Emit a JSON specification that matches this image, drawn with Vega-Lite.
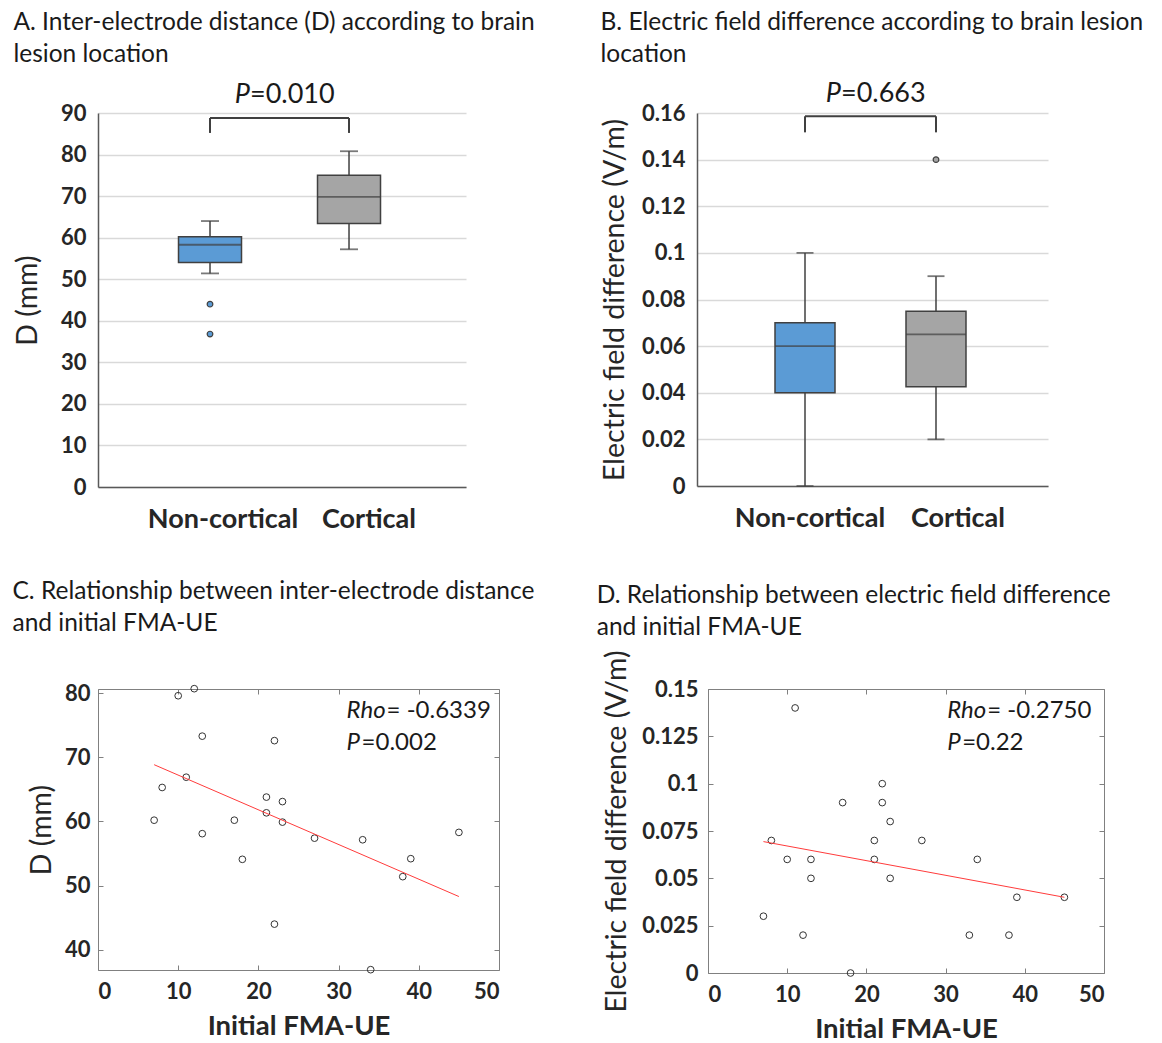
{
  "$schema": "https://vega.github.io/schema/vega-lite/v6.json",
  "padding": {"left": 12, "top": 9, "right": 5, "bottom": 0},
  "background": "white",
  "config": {
    "font": "Lato",
    "view": {"stroke": null},
    "axis": {"labelFont": "Lato", "titleFont": "Lato", "labelColor": "#262626", "titleColor": "#262626"},
    "title": {"font": "Lato", "fontSize": 24.5, "fontWeight": "normal", "color": "#1a1a1a", "anchor": "start", "frame": "bounds", "lineHeight": 32}
  },
  "datasets": {
    "boxA": [
      {"group": "Non-cortical", "lo": 51.4, "q1": 54.0, "med": 58.3, "q3": 60.2, "hi": 64.0},
      {"group": "Cortical", "lo": 57.2, "q1": 63.4, "med": 69.8, "q3": 75.0, "hi": 80.8}
    ],
    "outA": [
      {"group": "Non-cortical", "v": 44.0},
      {"group": "Non-cortical", "v": 36.8}
    ],
    "boxB": [
      {"group": "Non-cortical", "lo": 0.0, "q1": 0.04, "med": 0.06, "q3": 0.07, "hi": 0.10},
      {"group": "Cortical", "lo": 0.02, "q1": 0.0426, "med": 0.065, "q3": 0.075, "hi": 0.09}
    ],
    "outB": [
      {"group": "Cortical", "v": 0.14}
    ],
    "scatter": [
      {"fma": 7, "d": 60.2, "ef": 0.03},
      {"fma": 8, "d": 65.3, "ef": 0.07},
      {"fma": 10, "d": 79.6, "ef": 0.06},
      {"fma": 11, "d": 66.9, "ef": 0.14},
      {"fma": 12, "d": 80.7, "ef": 0.02},
      {"fma": 13, "d": 73.3, "ef": 0.06},
      {"fma": 13, "d": 58.1, "ef": 0.05},
      {"fma": 17, "d": 60.2, "ef": 0.09},
      {"fma": 18, "d": 54.1, "ef": 0.0},
      {"fma": 21, "d": 63.8, "ef": 0.07},
      {"fma": 21, "d": 61.35, "ef": 0.06},
      {"fma": 22, "d": 72.6, "ef": 0.10},
      {"fma": 22, "d": 44.0, "ef": 0.09},
      {"fma": 23, "d": 63.1, "ef": 0.08},
      {"fma": 23, "d": 59.9, "ef": 0.05},
      {"fma": 27, "d": 57.4, "ef": 0.07},
      {"fma": 33, "d": 57.15, "ef": 0.02},
      {"fma": 34, "d": 36.9, "ef": 0.06},
      {"fma": 38, "d": 51.4, "ef": 0.02},
      {"fma": 39, "d": 54.2, "ef": 0.04},
      {"fma": 45, "d": 58.3, "ef": 0.04}
    ],
    "fitC": [
      {"fma": 7, "d": 68.85},
      {"fma": 45, "d": 48.3}
    ],
    "fitD": [
      {"fma": 7, "ef": 0.0694},
      {"fma": 45, "ef": 0.0400}
    ]
  },
  "vconcat": [
    {
      "spacing": 65,
      "hconcat": [
        {
          "width": 368,
          "height": 374,
          "title": {"text": ["A. Inter-electrode distance (D) according to brain", "lesion location"], "offset": 13, "dx": 0},
          "encoding": {
            "x": {"field": "group", "type": "nominal", "sort": ["Non-cortical", "Cortical"],
              "scale": {"type": "band", "domain": ["Non-cortical", "Cortical"], "paddingInner": 0.5468, "paddingOuter": 0.5971, "align": 0.485},
              "axis": {"title": null, "labelAngle": 0, "labelFontSize": 27, "labelFontWeight": "bold", "ticks": false, "domainColor": "#595959", "domainWidth": 1.5, "labelPadding": 19, "labelOffset": {"condition": {"test": "datum.value === 'Cortical'", "value": 20}, "value": 13}, "grid": false}}
          },
          "layer": [
            {
              "data": {"name": "boxA"},
              "mark": {"type": "rule", "stroke": "#404040", "strokeWidth": 1.5},
              "encoding": {
                "y": {"field": "lo", "type": "quantitative", "scale": {"domain": [0, 90], "nice": false},
                  "axis": {"title": "D (mm)", "titleFontSize": 28.5, "titleFontWeight": "normal", "titlePadding": 18, "values": [0, 10, 20, 30, 40, 50, 60, 70, 80, 90], "labelFontSize": 22, "labelFontWeight": "bold", "labelPadding": 12, "ticks": false, "grid": true, "gridColor": "#d9d9d9", "gridWidth": 1.5, "domainColor": "#595959", "domainWidth": 1.5}},
                "y2": {"field": "hi"}
              }
            },
            {
              "data": {"name": "boxA"},
              "mark": {"type": "bar", "stroke": "#404040", "strokeWidth": 1.5},
              "encoding": {
                "y": {"field": "q1", "type": "quantitative"},
                "y2": {"field": "q3"},
                "color": {"field": "group", "type": "nominal", "scale": {"domain": ["Non-cortical", "Cortical"], "range": ["#5b9bd5", "#a5a5a5"]}, "legend": null}
              }
            },
            {
              "data": {"name": "boxA"},
              "mark": {"type": "tick", "orient": "horizontal", "color": "#404040", "size": 63, "thickness": 1.8},
              "encoding": {"y": {"field": "med", "type": "quantitative"}}
            },
            {
              "data": {"name": "boxA"},
              "mark": {"type": "tick", "orient": "horizontal", "color": "#404040", "size": 18, "thickness": 1.8},
              "encoding": {"y": {"field": "hi", "type": "quantitative"}}
            },
            {
              "data": {"name": "boxA"},
              "mark": {"type": "tick", "orient": "horizontal", "color": "#404040", "size": 18, "thickness": 1.8},
              "encoding": {"y": {"field": "lo", "type": "quantitative"}}
            },
            {
              "data": {"name": "outA"},
              "mark": {"type": "point", "filled": true, "size": 32, "stroke": "#404040", "strokeWidth": 1.2, "opacity": 1, "fill": "#5b9bd5"},
              "encoding": {"y": {"field": "v", "type": "quantitative"}}
            },
            {
              "data": {"values": [{"group": "Non-cortical", "a": 85.2, "b": 88.8}, {"group": "Cortical", "a": 85.2, "b": 88.8}]},
              "mark": {"type": "rule", "stroke": "#404040", "strokeWidth": 2},
              "encoding": {"y": {"field": "a", "type": "quantitative"}, "y2": {"field": "b"}}
            },
            {
              "data": {"values": [{"g1": "Non-cortical", "g2": "Cortical", "b": 88.8}]},
              "mark": {"type": "rule", "stroke": "#404040", "strokeWidth": 2},
              "encoding": {"x": {"field": "g1", "type": "nominal"}, "x2": {"field": "g2"}, "y": {"field": "b", "type": "quantitative"}}
            },
            {
              "data": {"values": [{"group": "Non-cortical", "y": 94.4, "t": "P"}]},
              "mark": {"type": "text", "fontSize": 27, "fontStyle": "italic", "align": "right", "baseline": "middle", "dx": 40, "color": "#1a1a1a"},
              "encoding": {"y": {"field": "y", "type": "quantitative"}, "text": {"field": "t"}}
            },
            {
              "data": {"values": [{"group": "Non-cortical", "y": 94.4, "t": "=0.010"}]},
              "mark": {"type": "text", "fontSize": 27, "align": "left", "baseline": "middle", "dx": 40, "color": "#1a1a1a"},
              "encoding": {"y": {"field": "y", "type": "quantitative"}, "text": {"field": "t"}}
            }
          ]
        },
        {
          "width": 351,
          "height": 373,
          "title": {"text": ["B. Electric field difference according to brain lesion", "location"], "offset": 13, "dx": 0},
          "encoding": {
            "x": {"field": "group", "type": "nominal", "sort": ["Non-cortical", "Cortical"],
              "scale": {"type": "band", "domain": ["Non-cortical", "Cortical"], "paddingInner": 0.542, "paddingOuter": 0.6107, "align": 0.4875},
              "axis": {"title": null, "labelAngle": 0, "labelFontSize": 27, "labelFontWeight": "bold", "ticks": false, "domainColor": "#595959", "domainWidth": 1.5, "labelPadding": 19, "labelOffset": {"condition": {"test": "datum.value === 'Cortical'", "value": 22}, "value": 5}, "grid": false}}
          },
          "layer": [
            {
              "data": {"name": "boxB"},
              "mark": {"type": "rule", "stroke": "#404040", "strokeWidth": 1.5},
              "encoding": {
                "y": {"field": "lo", "type": "quantitative", "scale": {"domain": [0, 0.16], "nice": false},
                  "axis": {"title": "Electric field difference (V/m)", "titleFontSize": 28.5, "titleFontWeight": "normal", "titlePadding": 12, "values": [0, 0.02, 0.04, 0.06, 0.08, 0.1, 0.12, 0.14, 0.16], "labelExpr": "datum.value == 0 ? '0' : format(datum.value, '.2~f')", "labelFontSize": 22, "labelFontWeight": "bold", "labelPadding": 12, "ticks": false, "grid": true, "gridColor": "#d9d9d9", "gridWidth": 1.5, "domainColor": "#595959", "domainWidth": 1.5}},
                "y2": {"field": "hi"}
              }
            },
            {
              "data": {"name": "boxB"},
              "mark": {"type": "bar", "stroke": "#404040", "strokeWidth": 1.5},
              "encoding": {
                "y": {"field": "q1", "type": "quantitative"},
                "y2": {"field": "q3"},
                "color": {"field": "group", "type": "nominal", "scale": {"domain": ["Non-cortical", "Cortical"], "range": ["#5b9bd5", "#a5a5a5"]}, "legend": null}
              }
            },
            {
              "data": {"name": "boxB"},
              "mark": {"type": "tick", "orient": "horizontal", "color": "#404040", "size": 60, "thickness": 1.8},
              "encoding": {"y": {"field": "med", "type": "quantitative"}}
            },
            {
              "data": {"name": "boxB"},
              "mark": {"type": "tick", "orient": "horizontal", "color": "#404040", "size": 17, "thickness": 1.8},
              "encoding": {"y": {"field": "hi", "type": "quantitative"}}
            },
            {
              "data": {"name": "boxB"},
              "mark": {"type": "tick", "orient": "horizontal", "color": "#404040", "size": 17, "thickness": 1.8},
              "encoding": {"y": {"field": "lo", "type": "quantitative"}}
            },
            {
              "data": {"name": "outB"},
              "mark": {"type": "point", "filled": true, "size": 32, "stroke": "#404040", "strokeWidth": 1.2, "opacity": 1, "fill": "#a5a5a5"},
              "encoding": {"y": {"field": "v", "type": "quantitative"}}
            },
            {
              "data": {"values": [{"group": "Non-cortical", "a": 0.1517, "b": 0.1586}, {"group": "Cortical", "a": 0.1517, "b": 0.1586}]},
              "mark": {"type": "rule", "stroke": "#404040", "strokeWidth": 2},
              "encoding": {"y": {"field": "a", "type": "quantitative"}, "y2": {"field": "b"}}
            },
            {
              "data": {"values": [{"g1": "Non-cortical", "g2": "Cortical", "b": 0.1586}]},
              "mark": {"type": "rule", "stroke": "#404040", "strokeWidth": 2},
              "encoding": {"x": {"field": "g1", "type": "nominal"}, "x2": {"field": "g2"}, "y": {"field": "b", "type": "quantitative"}}
            },
            {
              "data": {"values": [{"group": "Non-cortical", "y": 0.168, "t": "P"}]},
              "mark": {"type": "text", "fontSize": 27, "fontStyle": "italic", "align": "right", "baseline": "middle", "dx": 36, "color": "#1a1a1a"},
              "encoding": {"y": {"field": "y", "type": "quantitative"}, "text": {"field": "t"}}
            },
            {
              "data": {"values": [{"group": "Non-cortical", "y": 0.168, "t": "=0.663"}]},
              "mark": {"type": "text", "fontSize": 27, "align": "left", "baseline": "middle", "dx": 36, "color": "#1a1a1a"},
              "encoding": {"y": {"field": "y", "type": "quantitative"}, "text": {"field": "t"}}
            }
          ]
        }
      ]
    },
    {
      "spacing": 61,
      "hconcat": [
        {
          "width": 401,
          "height": 281,
          "title": {"text": ["C. Relationship between inter-electrode distance", "and initial FMA-UE"], "offset": 46, "dx": -15},
          "resolve": {"axis": {"x": "independent", "y": "independent"}},
          "layer": [
            {
              "data": {"name": "scatter"},
              "mark": {"type": "point", "shape": "circle", "filled": false, "size": 45, "stroke": "#333333", "strokeWidth": 1, "opacity": 1},
              "encoding": {
                "x": {"field": "fma", "type": "quantitative", "scale": {"domain": [0, 50], "nice": false},
                  "axis": {"orient": "bottom", "title": "Initial FMA-UE", "titleFontSize": 27.5, "titleFontWeight": "bold", "titlePadding": 10, "values": [0, 10, 20, 30, 40, 50], "labelFontSize": 22, "labelFontWeight": "bold", "labelPadding": 16, "tickSize": -5, "tickColor": "#808080", "domainColor": "#808080", "grid": false}},
                "y": {"field": "d", "type": "quantitative", "scale": {"domain": [36.85, 80.65], "nice": false, "zero": false},
                  "axis": {"orient": "left", "title": "D (mm)", "titleFontSize": 28.5, "titleFontWeight": "normal", "titlePadding": 8, "values": [40, 50, 60, 70, 80], "labelFontSize": 22, "labelFontWeight": "bold", "labelPadding": 13, "tickSize": -5, "tickColor": "#808080", "domainColor": "#808080", "grid": false}}
              }
            },
            {
              "data": {"name": "fitC"},
              "mark": {"type": "line", "color": "#ff3b3b", "strokeWidth": 1},
              "encoding": {
                "x": {"field": "fma", "type": "quantitative", "axis": {"orient": "top", "labels": false, "title": null, "values": [0, 10, 20, 30, 40, 50], "tickSize": -5, "tickColor": "#808080", "domainColor": "#808080", "grid": false}},
                "y": {"field": "d", "type": "quantitative", "axis": {"orient": "right", "labels": false, "title": null, "values": [40, 50, 60, 70, 80], "tickSize": -5, "tickColor": "#808080", "domainColor": "#808080", "grid": false}}
              }
            },
            {
              "data": {"values": [{"fma": 31.0, "d": 77.2, "t": "Rho"}, {"fma": 31.0, "d": 72.2, "t": "P"}]},
              "mark": {"type": "text", "fontSize": 24, "fontStyle": "italic", "align": "left", "baseline": "middle", "color": "#1a1a1a"},
              "encoding": {"x": {"field": "fma", "type": "quantitative", "axis": null}, "y": {"field": "d", "type": "quantitative", "axis": null}, "text": {"field": "t"}}
            },
            {
              "data": {"values": [{"fma": 31.0, "d": 77.2, "t": "= -0.6339"}]},
              "mark": {"type": "text", "fontSize": 24, "align": "left", "baseline": "middle", "dx": 40, "color": "#1a1a1a"},
              "encoding": {"x": {"field": "fma", "type": "quantitative", "axis": null}, "y": {"field": "d", "type": "quantitative", "axis": null}, "text": {"field": "t"}}
            },
            {
              "data": {"values": [{"fma": 31.0, "d": 72.2, "t": "=0.002"}]},
              "mark": {"type": "text", "fontSize": 24, "align": "left", "baseline": "middle", "dx": 15, "color": "#1a1a1a"},
              "encoding": {"x": {"field": "fma", "type": "quantitative", "axis": null}, "y": {"field": "d", "type": "quantitative", "axis": null}, "text": {"field": "t"}}
            }
          ]
        },
        {
          "width": 396,
          "height": 284,
          "title": {"text": ["D. Relationship between electric field difference", "and initial FMA-UE"], "offset": 9, "dx": -6},
          "resolve": {"axis": {"x": "independent", "y": "independent"}},
          "layer": [
            {
              "data": {"name": "scatter"},
              "mark": {"type": "point", "shape": "circle", "filled": false, "size": 45, "stroke": "#333333", "strokeWidth": 1, "opacity": 1},
              "encoding": {
                "x": {"field": "fma", "type": "quantitative", "scale": {"domain": [0, 50], "nice": false},
                  "axis": {"orient": "bottom", "title": "Initial FMA-UE", "titleFontSize": 27.5, "titleFontWeight": "bold", "titlePadding": 10, "values": [0, 10, 20, 30, 40, 50], "labelFontSize": 22, "labelFontWeight": "bold", "labelPadding": 16, "tickSize": -5, "tickColor": "#808080", "domainColor": "#808080", "grid": false}},
                "y": {"field": "ef", "type": "quantitative", "scale": {"domain": [0, 0.15], "nice": false},
                  "axis": {"orient": "left", "title": "Electric field difference (V/m)", "titleFontSize": 28.5, "titleFontWeight": "normal", "titlePadding": 10, "values": [0, 0.025, 0.05, 0.075, 0.1, 0.125, 0.15], "labelExpr": "datum.value == 0 ? '0' : format(datum.value, '.3~f')", "labelFontSize": 22, "labelFontWeight": "bold", "labelPadding": 15, "tickSize": -5, "tickColor": "#808080", "domainColor": "#808080", "grid": false}}
              }
            },
            {
              "data": {"name": "fitD"},
              "mark": {"type": "line", "color": "#ff3b3b", "strokeWidth": 1},
              "encoding": {
                "x": {"field": "fma", "type": "quantitative", "axis": {"orient": "top", "labels": false, "title": null, "values": [0, 10, 20, 30, 40, 50], "tickSize": -5, "tickColor": "#808080", "domainColor": "#808080", "grid": false}},
                "y": {"field": "ef", "type": "quantitative", "axis": {"orient": "right", "labels": false, "title": null, "values": [0, 0.025, 0.05, 0.075, 0.1, 0.125, 0.15], "tickSize": -5, "tickColor": "#808080", "domainColor": "#808080", "grid": false}}
              }
            },
            {
              "data": {"values": [{"fma": 30.2, "ef": 0.1382, "t": "Rho"}, {"fma": 30.2, "ef": 0.1213, "t": "P"}]},
              "mark": {"type": "text", "fontSize": 24, "fontStyle": "italic", "align": "left", "baseline": "middle", "color": "#1a1a1a"},
              "encoding": {"x": {"field": "fma", "type": "quantitative", "axis": null}, "y": {"field": "ef", "type": "quantitative", "axis": null}, "text": {"field": "t"}}
            },
            {
              "data": {"values": [{"fma": 30.2, "ef": 0.1382, "t": "= -0.2750"}]},
              "mark": {"type": "text", "fontSize": 24, "align": "left", "baseline": "middle", "dx": 40, "color": "#1a1a1a"},
              "encoding": {"x": {"field": "fma", "type": "quantitative", "axis": null}, "y": {"field": "ef", "type": "quantitative", "axis": null}, "text": {"field": "t"}}
            },
            {
              "data": {"values": [{"fma": 30.2, "ef": 0.1213, "t": "=0.22"}]},
              "mark": {"type": "text", "fontSize": 24, "align": "left", "baseline": "middle", "dx": 15, "color": "#1a1a1a"},
              "encoding": {"x": {"field": "fma", "type": "quantitative", "axis": null}, "y": {"field": "ef", "type": "quantitative", "axis": null}, "text": {"field": "t"}}
            }
          ]
        }
      ]
    }
  ],
  "spacing": 46
}
